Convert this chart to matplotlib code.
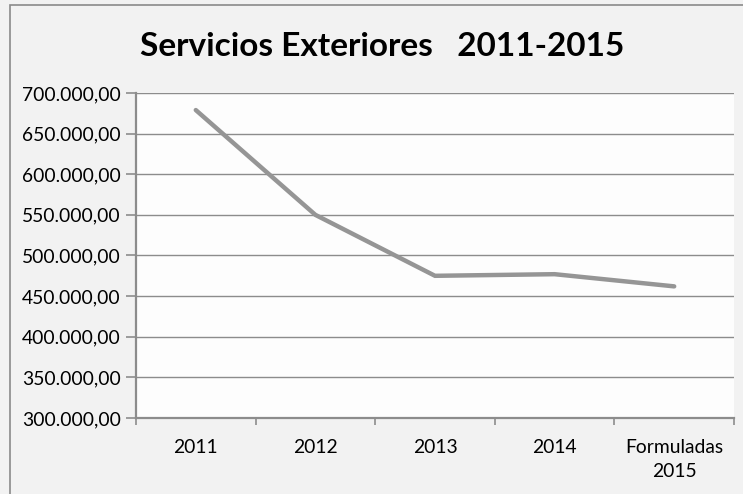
import matplotlib
matplotlib.use("Agg")
import matplotlib.pyplot as plt
from matplotlib.patches import Rectangle
from matplotlib.ticker import FuncFormatter, FixedLocator

# Datos
categorias = ["2011", "2012", "2013", "2014", "Formuladas\n2015"]
importes = [679000, 550000, 475000, 477000, 462000]
y_ticks = [300000, 350000, 400000, 450000, 500000, 550000, 600000, 650000, 700000]

plt.rcParams["font.family"] = ["Lato", "DejaVu Sans"]

W, H = 743, 494
fig = plt.figure(figsize=(W / 100, H / 100), dpi=100)
fig.patch.set_facecolor("#f2f2f2")

# borde del área del gráfico
fig.patches.append(Rectangle((10 / W, -0.1), 1.2, 1.1 - 5 / H, transform=fig.transFigure,
                             fill=False, edgecolor="#8a8a8a", linewidth=1.2))

ax = fig.add_axes([136 / W, 1 - 418 / H, (734 - 136) / W, (418 - 93) / H])
ax.set_facecolor("#fdfdfd")

x = list(range(len(categorias)))
ax.plot(x, importes, color="#959595", linewidth=3.2, solid_capstyle="round",
        solid_joinstyle="miter", zorder=3)

ax.set_xlim(-0.5, len(categorias) - 0.5)
ax.set_ylim(300000, 700000)
ax.set_yticks(y_ticks)
ax.yaxis.set_major_formatter(FuncFormatter(
    lambda v, p: "{:,.2f}".format(v).replace(",", "X").replace(".", ",").replace("X", ".")))
ax.grid(axis="y", color="#8c8c8c", linewidth=1.0)
ax.set_axisbelow(True)

ax.set_xticks(x)
ax.set_xticklabels(categorias, fontsize=13.9, color="#000000", linespacing=1.5)
ax.xaxis.set_minor_locator(FixedLocator([i - 0.5 for i in range(len(categorias) + 1)]))
ax.tick_params(axis="x", which="major", length=0, pad=15)
ax.tick_params(axis="x", which="minor", length=5, width=1.2, color="#8c8c8c", direction="out")
ax.tick_params(axis="y", length=7, width=1.2, color="#8c8c8c", direction="out",
               labelsize=13.9, pad=4)

for s in ["top", "right"]:
    ax.spines[s].set_visible(False)
for s in ["left", "bottom"]:
    ax.spines[s].set_color("#8c8c8c")
    ax.spines[s].set_linewidth(1.6)

fig.text(382 / W, 1 - 46 / H, "Servicios Exteriores   2011-2015", ha="center", va="center",
         fontsize=24, fontweight="bold", color="#000000")

fig.savefig("out.png", dpi=100, facecolor=fig.get_facecolor())
